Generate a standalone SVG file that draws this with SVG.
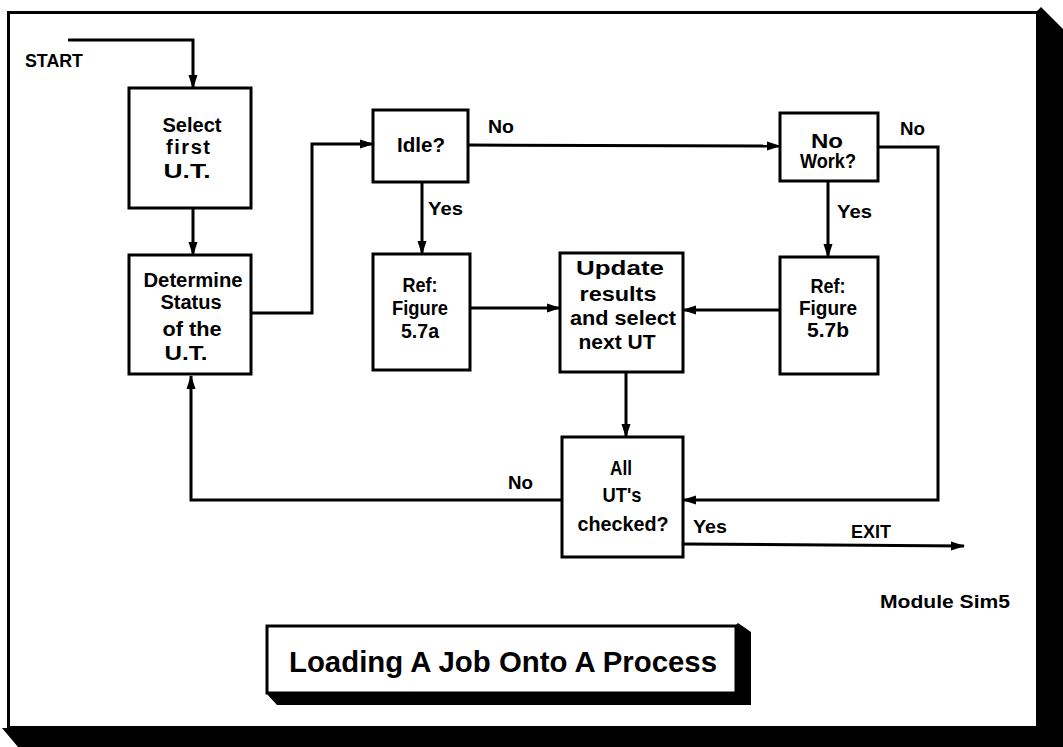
<svg xmlns="http://www.w3.org/2000/svg" width="1063" height="747" viewBox="0 0 1063 747">
  <style>
    .box { fill: #fff; stroke: #000; stroke-width: 3; }
    .t { font-family: "Liberation Sans", Arial, sans-serif; font-weight: bold; font-size: 20px; fill: #000; text-anchor: middle; }
    .lbl { font-family: "Liberation Sans", Arial, sans-serif; font-weight: bold; font-size: 18px; fill: #000; }
    .title { font-family: "Liberation Sans", Arial, sans-serif; font-weight: bold; font-size: 30px; fill: #000; text-anchor: middle; }
    .wire { fill: none; stroke: #000; stroke-width: 3; }
    .arr { marker-end: url(#head); }
  </style>
  <defs>
    <marker id="head" markerUnits="userSpaceOnUse" markerWidth="14" markerHeight="10" refX="13" refY="5" orient="auto" viewBox="0 0 14 10">
      <path d="M0,0.5 L14,5 L0,9.5 z" fill="#000"/>
    </marker>
  </defs>

  <!-- page with drop shadow -->
  <g id="page">
    <polygon points="1036,12 1041,7 1063,29 1063,747 18,747 2,728 1036,728" fill="#000"/>
    <rect x="8.5" y="12.5" width="1029" height="715" fill="#fff" stroke="#000" stroke-width="3"/>
  </g>

  <!-- connectors -->
  <g id="connectors">
    <polyline class="wire arr" points="68,40 193,40 193,88"/>
    <line class="wire arr" x1="193" y1="208" x2="193" y2="255"/>
    <polyline class="wire arr" points="251,313 312,313 312,144 373,144"/>
    <line class="wire arr" x1="468" y1="145" x2="780" y2="146"/>
    <line class="wire arr" x1="422" y1="182" x2="422" y2="254"/>
    <line class="wire arr" x1="470" y1="308" x2="560" y2="308"/>
    <line class="wire arr" x1="828" y1="181" x2="828" y2="257"/>
    <line class="wire arr" x1="780" y1="310" x2="683" y2="310"/>
    <polyline class="wire arr" points="878,147 938,147 938,500 683,500"/>
    <line class="wire arr" x1="626" y1="372" x2="626" y2="437"/>
    <polyline class="wire arr" points="562,500 191,500 191,376"/>
    <line class="wire arr" x1="683" y1="544" x2="964" y2="546"/>
  </g>

  <!-- connector labels -->
  <g id="labels">
    <text class="lbl" x="25" y="67" textLength="58" lengthAdjust="spacingAndGlyphs">START</text>
    <text class="lbl" x="488" y="133" textLength="26" lengthAdjust="spacingAndGlyphs">No</text>
    <text class="lbl" x="428" y="215" textLength="35" lengthAdjust="spacingAndGlyphs">Yes</text>
    <text class="lbl" x="900" y="135" textLength="25" lengthAdjust="spacingAndGlyphs">No</text>
    <text class="lbl" x="837" y="218" textLength="35" lengthAdjust="spacingAndGlyphs">Yes</text>
    <text class="lbl" x="508" y="489" textLength="25" lengthAdjust="spacingAndGlyphs">No</text>
    <text class="lbl" x="693" y="533" textLength="34" lengthAdjust="spacingAndGlyphs">Yes</text>
    <text class="lbl" x="851" y="538" font-size="20" textLength="40" lengthAdjust="spacingAndGlyphs">EXIT</text>
    <text class="lbl" x="880" y="608" font-size="19" textLength="130" lengthAdjust="spacingAndGlyphs">Module Sim5</text>
  </g>

  <g id="select-first">
    <rect class="box" x="129" y="88" width="122" height="120"/>
    <text class="t" x="192" y="132" textLength="59" lengthAdjust="spacingAndGlyphs">Select</text>
    <text class="t" x="188" y="154" textLength="44">first</text>
    <text class="t" x="187" y="178" textLength="47" lengthAdjust="spacingAndGlyphs">U.T.</text>
  </g>

  <g id="determine-status">
    <rect class="box" x="129" y="255" width="122" height="119"/>
    <text class="t" x="193" y="287" textLength="99" lengthAdjust="spacingAndGlyphs">Determine</text>
    <text class="t" x="191" y="309">Status</text>
    <text class="t" x="192" y="336" textLength="59" lengthAdjust="spacingAndGlyphs">of the</text>
    <text class="t" x="186" y="360" textLength="43" lengthAdjust="spacingAndGlyphs">U.T.</text>
  </g>

  <g id="idle">
    <rect class="box" x="373" y="110" width="95" height="72"/>
    <text class="t" x="421" y="152" textLength="48" lengthAdjust="spacingAndGlyphs">Idle?</text>
  </g>

  <g id="ref-a">
    <rect class="box" x="373" y="254" width="97" height="116"/>
    <text class="t" x="420" y="292" textLength="35" lengthAdjust="spacingAndGlyphs">Ref:</text>
    <text class="t" x="420" y="315" textLength="56" lengthAdjust="spacingAndGlyphs">Figure</text>
    <text class="t" x="420" y="338" textLength="38" lengthAdjust="spacingAndGlyphs">5.7a</text>
  </g>

  <g id="update">
    <rect class="box" x="560" y="253" width="123" height="119"/>
    <text class="t" x="620" y="275" textLength="88" lengthAdjust="spacingAndGlyphs">Update</text>
    <text class="t" x="618" y="301" textLength="77" lengthAdjust="spacingAndGlyphs">results</text>
    <text class="t" x="623" y="325" textLength="106" lengthAdjust="spacingAndGlyphs">and select</text>
    <text class="t" x="617" y="349" textLength="77" lengthAdjust="spacingAndGlyphs">next UT</text>
  </g>

  <g id="no-work">
    <rect class="box" x="780" y="113" width="98" height="68"/>
    <text class="t" x="827" y="148" font-size="18" textLength="32" lengthAdjust="spacingAndGlyphs">No</text>
    <text class="t" x="828" y="168" font-size="18" textLength="56" lengthAdjust="spacingAndGlyphs">Work?</text>
  </g>

  <g id="ref-b">
    <rect class="box" x="780" y="257" width="98" height="117"/>
    <text class="t" x="828" y="293" textLength="35" lengthAdjust="spacingAndGlyphs">Ref:</text>
    <text class="t" x="828" y="315" textLength="58" lengthAdjust="spacingAndGlyphs">Figure</text>
    <text class="t" x="828" y="337" textLength="42" lengthAdjust="spacingAndGlyphs">5.7b</text>
  </g>

  <g id="all-checked">
    <rect class="box" x="562" y="437" width="121" height="120"/>
    <text class="t" x="621" y="475" textLength="22" lengthAdjust="spacingAndGlyphs">All</text>
    <text class="t" x="622" y="502" textLength="39" lengthAdjust="spacingAndGlyphs">UT's</text>
    <text class="t" x="623" y="531" textLength="91" lengthAdjust="spacingAndGlyphs">checked?</text>
  </g>

  <g id="title">
    <polygon points="734,627 738,623 751,632 751,705 277,705 266,693 734,693" fill="#000"/>
    <rect class="box" x="267" y="626" width="469" height="67"/>
    <text class="title" x="503" y="672" textLength="428" lengthAdjust="spacingAndGlyphs">Loading A Job Onto A Process</text>
  </g>
</svg>
